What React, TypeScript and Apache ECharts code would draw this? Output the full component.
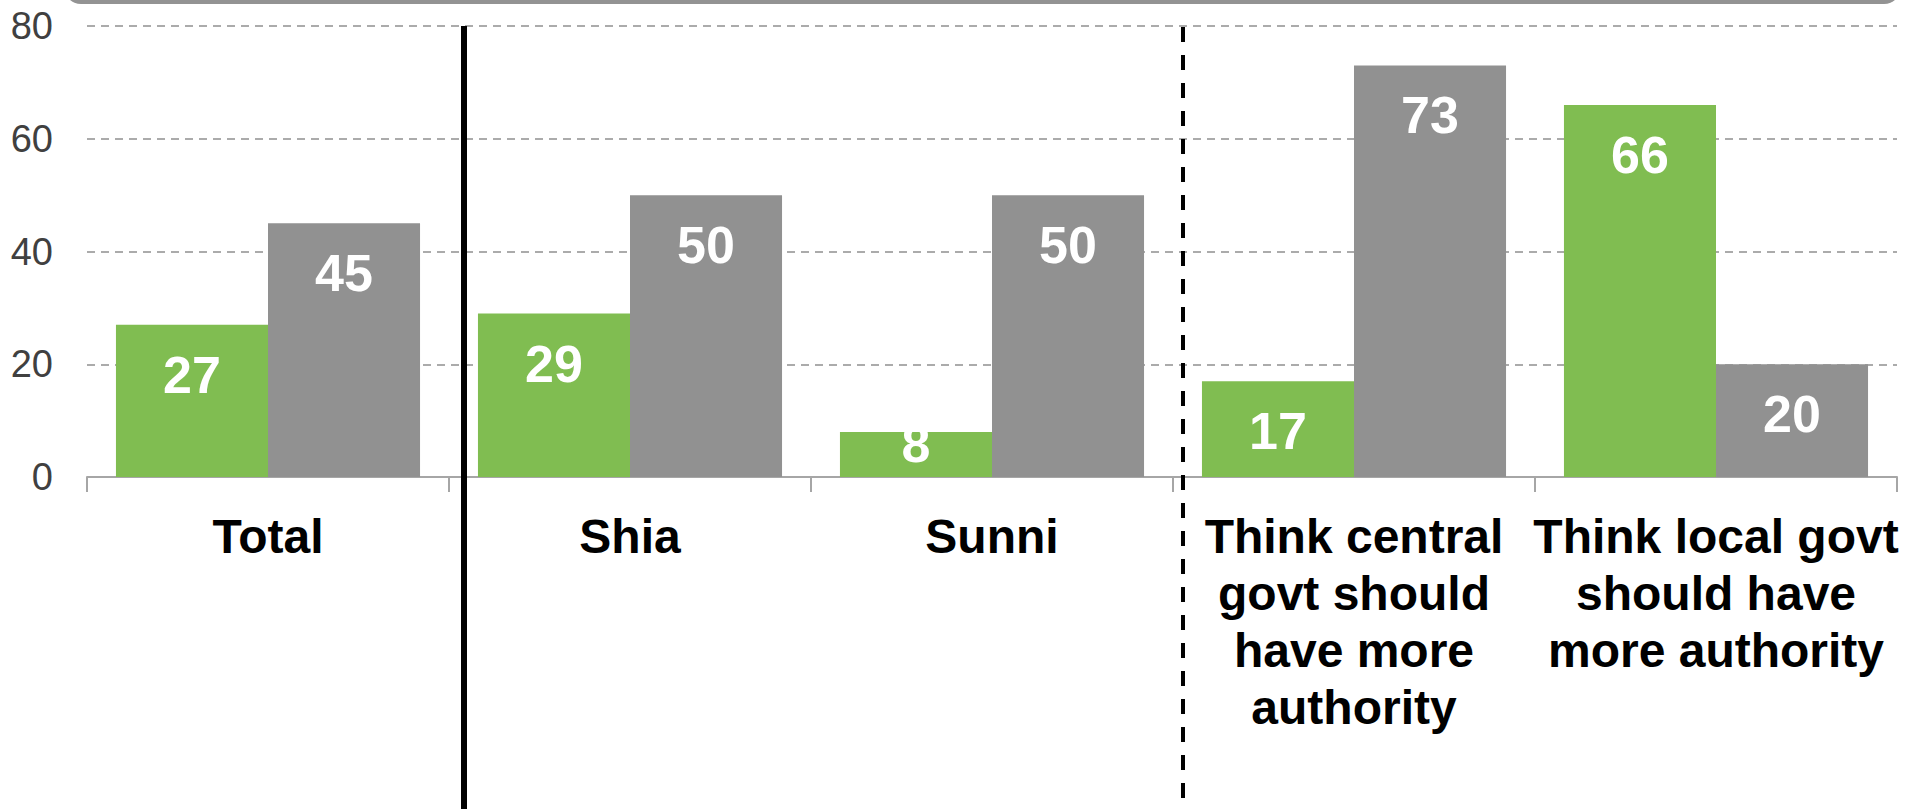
import React, { useEffect, useRef } from "react";
import * as echarts from "echarts";

const categories = [
  "Total",
  "Shia",
  "Sunni",
  "Think central\ngovt should\nhave more\nauthority",
  "Think local govt\nshould have\nmore authority",
];
const greenValues = [27, 29, 8, 17, 66];
const grayValues = [45, 50, 50, 73, 20];
const yTicks = { min: 0, max: 80, interval: 20 };

const GREEN = "#80BD51";
const GRAY = "#919191";
const FONT = "'Liberation Sans', Arial, sans-serif";

export default function App() {
  const ref = useRef<HTMLDivElement>(null);
  useEffect(() => {
    if (!ref.current) return;
    const chart = echarts.init(ref.current, null, { renderer: "svg" });
    const valueLabel = {
      show: true,
      position: "insideTop",
      distance: 24,
      color: "#ffffff",
      fontSize: 52,
      fontWeight: "bold",
      fontFamily: FONT,
    };
    const greenData = greenValues.map((v) =>
      v < 12 ? { value: v, label: { offset: [0, -38] } } : v
    );
    chart.setOption({
      animation: false,
      backgroundColor: "#ffffff",
      grid: { left: 87, right: 10, top: 26, bottom: 332, containLabel: false },
      xAxis: {
        type: "category",
        data: categories,
        axisLine: { lineStyle: { color: "#a6a6a6", width: 2 } },
        axisTick: { show: true, length: 15, lineStyle: { color: "#a6a6a6", width: 2 } },
        axisLabel: {
          interval: 0,
          margin: 31,
          color: "#000000",
          fontSize: 48,
          fontWeight: "bold",
          fontFamily: FONT,
          lineHeight: 57,
          align: "center",
        },
      },
      yAxis: {
        type: "value",
        min: yTicks.min,
        max: yTicks.max,
        interval: yTicks.interval,
        axisLine: { show: false },
        axisTick: { show: false },
        axisLabel: { color: "#404040", fontSize: 38, fontFamily: FONT, margin: 34 },
        splitLine: { lineStyle: { color: "#ababab", width: 2, type: [8, 6] } },
      },
      series: [
        {
          type: "bar",
          data: greenData,
          itemStyle: { color: GREEN },
          barGap: "0%",
          barCategoryGap: "16%",
          label: valueLabel,
        },
        {
          type: "bar",
          data: grayValues,
          itemStyle: { color: GRAY },
          barGap: "0%",
          barCategoryGap: "16%",
          label: valueLabel,
        },
      ],
      graphic: [
        {
          type: "rect",
          shape: { x: 64, y: -30, width: 1837, height: 34, r: 20 },
          style: { fill: "#939393" },
          silent: true,
        },
        {
          type: "line",
          shape: { x1: 464, y1: 26, x2: 464, y2: 809 },
          style: { stroke: "#000000", lineWidth: 6 },
          silent: true,
          z: 10,
        },
        {
          type: "line",
          shape: { x1: 1183, y1: 27, x2: 1183, y2: 809 },
          style: { stroke: "#000000", lineWidth: 4, lineDash: [15, 13] },
          silent: true,
          z: 10,
        },
      ],
    });
    return () => chart.dispose();
  }, []);
  return (
    <div
      ref={ref}
      style={{ position: "fixed", left: 0, top: 0, width: 1907, height: 809, background: "#fff" }}
    />
  );
}
